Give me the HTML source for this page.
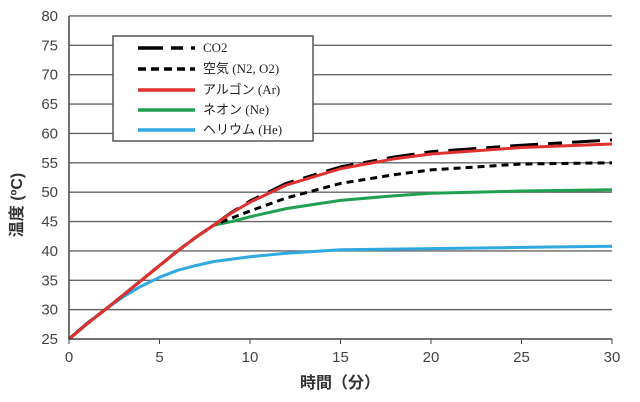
<!DOCTYPE html><html><head><meta charset="utf-8"><style>body{margin:0;background:#fff}svg{display:block}</style></head><body>
<svg id="s" width="640" height="402" xmlns="http://www.w3.org/2000/svg" font-family="Liberation Sans, Noto Sans CJK JP, sans-serif">
<rect width="640" height="402" fill="#fff"/>
<g id="grid"></g>
<g id="curves" fill="none" stroke-linejoin="round"></g>
<line x1="69" y1="16" x2="69" y2="339" stroke="#444" stroke-width="1.5"/>
<line x1="69" y1="339" x2="612" y2="339" stroke="#444" stroke-width="1.5"/>
<g id="lab" font-size="15" fill="#444"></g>
<text x="340" y="388" font-size="16" font-weight="bold" text-anchor="middle" fill="#333" font-family="Liberation Sans, Noto Sans CJK JP, sans-serif">時間（分）</text>
<text transform="translate(22,205) rotate(-90)" font-size="16" font-weight="bold" text-anchor="middle" fill="#333">温度 (ºC)</text>
<rect x="113" y="36" width="200" height="105" fill="#fff" stroke="#555" stroke-width="1.5"/>
<g stroke-width="3.5" fill="none">
<line x1="138" y1="48" x2="195" y2="48" stroke="#000" stroke-dasharray="25,8,12,8"/>
<line x1="138" y1="69" x2="195" y2="69" stroke="#000" stroke-dasharray="8,5"/>
<line x1="138" y1="90" x2="195" y2="90" stroke="#e03030"/>
<line x1="138" y1="110" x2="195" y2="110" stroke="#20a050"/>
<line x1="138" y1="130" x2="195" y2="130" stroke="#30a8e0"/>
</g>
<g font-size="13" fill="#222" font-family="Liberation Serif, Noto Sans CJK JP, serif">
<text x="203" y="52">CO2</text><text x="203" y="73">空気 (N2, O2)</text><text x="203" y="94">アルゴン (Ar)</text><text x="203" y="114">ネオン (Ne)</text><text x="203" y="134">ヘリウム (He)</text>
</g>
<script>
var X=t=>69+t*18.1,Y=T=>339-(T-25)*5.873,ns="http://www.w3.org/2000/svg";
function el(p,n,a){var e=document.createElementNS(ns,n);for(var k in a)e.setAttribute(k,a[k]);document.getElementById(p).appendChild(e);return e;}
for(var v=25;v<=80;v+=5){if(v>25)el("grid","line",{x1:69,x2:612,y1:Y(v),y2:Y(v),stroke:"#666","stroke-width":1.4});
var t=el("lab","text",{x:58,y:Y(v)+5,"text-anchor":"end"});t.textContent=v;}
for(var i=0;i<=30;i+=5){var t=el("lab","text",{x:X(i),y:362,"text-anchor":"middle"});t.textContent=i;
el("grid","line",{x1:X(i),x2:X(i),y1:339,y2:344,stroke:"#444"});}
function P(pts){return pts.map((p,i)=>(i?"L":"M")+X(p[0]).toFixed(1)+","+Y(p[1]).toFixed(1)).join("");}
var base=[[0,25],[1,27.6],[2,30],[3,32.5],[4,35],[5,37.5],[6,40],[7,42.3],[8,44.4]];
var S=[
["#30a8e0",null,[[0,25],[1,27.7],[2,30],[3,32.2],[4,34],[5,35.5],[6,36.7],[7,37.5],[8,38.2],[10,39],[12,39.6],[15,40.2],[20,40.4],[25,40.6],[30,40.8]]],
["#20a050",null,base.concat([[9,45],[10,45.8],[12,47.2],[15,48.6],[18,49.4],[20,49.8],[25,50.2],[30,50.4]])],
["#000","7,5",base.concat([[9,45.6],[10,46.8],[12,49],[15,51.5],[18,53],[20,53.8],[25,54.8],[30,55]])],
["#000","28,10,14,10",base.concat([[9,46.6],[10,48.5],[12,51.5],[15,54.3],[18,56],[20,56.9],[25,58],[30,58.9]])],
["#e03030",null,base.concat([[9,46.5],[10,48.3],[12,51.2],[15,54],[18,55.7],[20,56.5],[25,57.6],[30,58.2]])]];
S.forEach(s=>{var a={d:P(s[2]),stroke:s[0],"stroke-width":3};if(s[1])a["stroke-dasharray"]=s[1];el("curves","path",a);});
</script>
</svg></body></html>
